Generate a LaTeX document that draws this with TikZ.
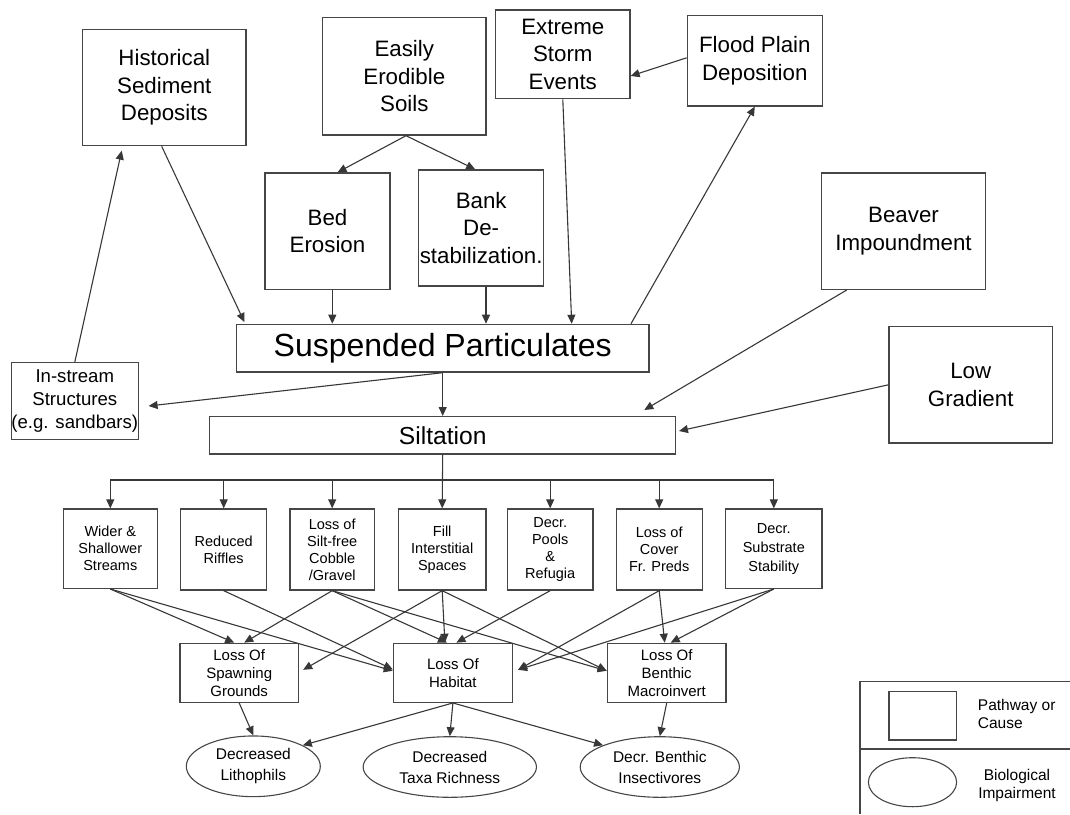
\documentclass[tikz,border=0pt]{standalone}
\usepackage{fontspec}
\setmainfont{Liberation Sans}
\usetikzlibrary{arrows.meta,shapes.geometric}
\definecolor{lncol}{RGB}{55,55,55}
\definecolor{bdcol}{RGB}{70,70,70}
\begin{document}
\begin{tikzpicture}[x=1pt,y=-1pt,
  box/.style={draw=bdcol,line width=1.3pt,inner sep=0pt,align=center,text=black},
  bigbox/.style={box,font=\fontsize{22.3}{27.5}\selectfont},
  midbox/.style={box,font=\fontsize{14.5}{17}\selectfont},
  lowbox/.style={box,font=\fontsize{15}{18}\selectfont},
  ell/.style={draw=bdcol,line width=1.1pt,ellipse,inner sep=0pt,align=center,font=\fontsize{15.5}{21}\selectfont},
  arr/.style={draw=lncol,line width=1.1pt,-{Triangle[length=9pt,width=8pt]}},
  plain/.style={draw=lncol,line width=1.1pt},
  legtext/.style={inner sep=0pt,font=\fontsize{15.5}{18.5}\selectfont}
]
\useasboundingbox (0,0) rectangle (1070,814);

% top tier
\node[bigbox,minimum width=163.3,minimum height=116.4] (hist) at (164.3,87.5) {Historical\\Sediment\\Deposits};
\node[bigbox,minimum width=163.3,minimum height=117.7] (easy) at (404.3,76.2) {Easily\\Erodible\\Soils};
\node[bigbox,minimum width=134.3,minimum height=88.7] (storm) at (562.8,54.3) {Extreme\\Storm\\Events};
\node[bigbox,minimum width=135,minimum height=90.3] (flood) at (754.8,60.8) {Flood Plain\\Deposition};
\node[bigbox,minimum width=125,minimum height=116.3] (bed) at (327.5,231.2) {Bed\\Erosion};
\node[bigbox,minimum width=125.1,minimum height=116] (bank) at (481.2,228) {Bank\\De-\\stabilization.};
\node[bigbox,minimum width=163.6,minimum height=116.3] (beaver) at (903.5,231.2) {Beaver\\Impoundment};
\node[box,font=\fontsize{32}{38}\selectfont,minimum width=412.7,minimum height=47.7] (susp) at (442.7,348.2) {Suspended Particulates};
\node[box,font=\fontsize{18.6}{23}\selectfont,minimum width=126.3,minimum height=77] (instream) at (74.8,401.2) {In-stream\\Structures\\(e.g. sandbars)};
\node[box,font=\fontsize{24.6}{29}\selectfont,minimum width=466,minimum height=37.3] (silt) at (442.7,435.3) {Siltation};
\node[bigbox,minimum width=163.3,minimum height=116.3] (lowgrad) at (970.7,384.8) {Low\\Gradient};

% third tier
\node[midbox,minimum width=94,minimum height=79.3] (wider) at (110.3,548.7) {Wider \&\\Shallower\\Streams};
\node[midbox,minimum width=86,minimum height=81] (riffles) at (223.7,549.5) {Reduced\\Riffles};
\node[midbox,minimum width=84.3,minimum height=81] (cobble) at (332.2,549.5) {Loss of\\Silt-free\\Cobble\\/Gravel};
\node[midbox,minimum width=87.7,minimum height=81] (fill) at (442.2,549.5) {Fill\\Interstitial\\Spaces};
\node[midbox,minimum width=85.7,minimum height=81] (pools) at (550.2,549.5) {Decr.\\Pools\\\&\\Refugia};
\node[midbox,minimum width=86,minimum height=81] (cover) at (659.2,549.5) {Loss of\\Cover\\Fr. Preds};
\node[box,font=\fontsize{14.5}{19}\selectfont,minimum width=96.4,minimum height=79.3] (substr) at (773.8,548.7) {Decr.\\Substrate\\Stability};

% fourth tier
\node[lowbox,minimum width=118.6,minimum height=59] (spawn) at (239.2,672.8) {Loss Of\\Spawning\\Grounds};
\node[lowbox,minimum width=119,minimum height=59] (habitat) at (452.9,672.8) {Loss Of\\Habitat};
\node[lowbox,minimum width=118.7,minimum height=59] (macro) at (666.7,672.8) {Loss Of\\Benthic\\Macroinvert};

% impairments
\node[ell,minimum width=134,minimum height=60.7] (litho) at (253.3,766.3) {Decreased\\Lithophils};
\node[ell,minimum width=173.3,minimum height=60.6] (taxa) at (449.8,767) {Decreased\\Taxa Richness};
\node[ell,minimum width=159.2,minimum height=60.6] (insect) at (659.8,767) {Decr. Benthic\\Insectivores};

% legend
\coordinate (legtl) at (860,681.7);
\coordinate (legtr) at (1070,681.7);
\coordinate (legbl) at (860,814);
\coordinate (legml) at (860,749);
\coordinate (legmr) at (1070,749);
\draw[draw=bdcol,line width=1.3pt] (legtr) -- (legtl) -- (legbl);
\draw[draw=bdcol,line width=1.3pt] (legml) -- (legmr);
\node[draw=bdcol,line width=1.3pt,inner sep=0pt,minimum width=67.3,minimum height=48.3] (legrect) at (922.7,715.8) {};
\node[draw=bdcol,line width=1.1pt,ellipse,inner sep=0pt,minimum width=88.3,minimum height=49] (legell) at (912.5,782.2) {};
\node[legtext,anchor=west,align=left] (legpath) at (977.7,714) {Pathway or\\Cause};
\node[legtext,align=center] (legbio) at (1017,785.5) {Biological\\Impairment};

% top connectors
\draw[arr] ([xshift=1.7pt]easy.south) -- ([xshift=10pt]bed.north);
\draw[arr] ([xshift=1.7pt]easy.south) -- ([xshift=-6pt]bank.north);
\draw[arr] ([yshift=3pt]flood.west) -- ([yshift=-21.7pt]storm.east);
\draw[arr] (storm.south) -- ([xshift=129pt]susp.north);
\draw[arr] ([xshift=188.3pt]susp.north) -- (flood.south);
\draw[arr] ([xshift=-2.6pt]hist.south) -- ([xshift=8.7pt,yshift=1.6pt]susp.north west);
\draw[arr] (instream.north) -- ([xshift=-42.6pt,yshift=-4.3pt]hist.south);
\draw[arr] ([xshift=4.8pt]bed.south) -- ([xshift=-110.4pt]susp.north);
\draw[arr] ([xshift=4.8pt]bank.south) -- ([xshift=43.3pt]susp.north);
\draw[arr] (susp.south) -- (silt.north);
\draw[arr] (susp.south) -- ([xshift=9.7pt,yshift=-4.8pt]instream.east);
\draw[arr] ([xshift=-56.8pt]beaver.south) -- ([xshift=201.6pt,yshift=6pt]silt.north);
\draw[arr] (lowgrad.west) -- ([xshift=2.6pt,yshift=4.3pt]silt.east);

% siltation bus
\coordinate (bus) at (0,480);
\draw[plain] (wider.north |- bus) -- (substr.north |- bus);
\draw[arr] (silt.south) -- (fill.north);
\draw[arr] (wider.north |- bus) -- (wider.north);
\draw[arr] (riffles.north |- bus) -- (riffles.north);
\draw[arr] (cobble.north |- bus) -- (cobble.north);
\draw[arr] (pools.north |- bus) -- (pools.north);
\draw[arr] (cover.north |- bus) -- (cover.north);
\draw[arr] (substr.north |- bus) -- (substr.north);

% third to fourth tier
\draw[arr] (wider.south) -- ([xshift=-5pt]spawn.north);
\draw[arr] (wider.south) -- ([yshift=2pt]habitat.west);
\draw[arr] (riffles.south) -- ([yshift=3.5pt]habitat.west);
\draw[arr] (cobble.south) -- ([xshift=5pt]spawn.north);
\draw[arr] (cobble.south) -- ([xshift=-6pt]habitat.north);
\draw[arr] (cobble.south) -- ([yshift=2pt]macro.west);
\draw[arr] (fill.south) -- ([xshift=4pt,yshift=3pt]spawn.east);
\draw[arr] (fill.south) -- ([xshift=-8pt]habitat.north);
\draw[arr] (fill.south) -- ([yshift=2pt]macro.west);
\draw[arr] (pools.south) -- ([xshift=3.5pt]habitat.north);
\draw[arr] (cover.south) -- ([xshift=5pt,yshift=3pt]habitat.east);
\draw[arr] (cover.south) -- ([xshift=-2pt]macro.north);
\draw[arr] (substr.south) -- ([xshift=5pt,yshift=3pt]habitat.east);
\draw[arr] (substr.south) -- ([xshift=4pt]macro.north);

% fourth tier to impairments
\draw[arr] (spawn.south) -- (litho.north);
\draw[arr] (habitat.south) -- (litho.23);
\draw[arr] (habitat.south) -- (taxa.north);
\draw[arr] (habitat.south) -- (insect.159);
\draw[arr] (macro.south) -- (insect.north);
\end{tikzpicture}
\end{document}
